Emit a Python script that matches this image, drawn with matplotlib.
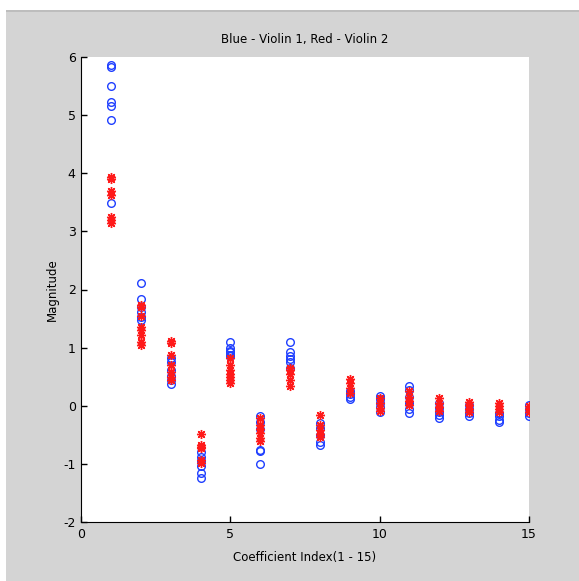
import matplotlib.pyplot as plt
from matplotlib.patches import Rectangle

# magnitudes per coefficient index (1 - 15)
blue_violin1 = [
    [5.86, 5.82, 5.50, 5.22, 5.16, 4.92, 3.49],
    [2.11, 1.83, 1.70, 1.62, 1.53, 1.48],
    [0.82, 0.75, 0.62, 0.52, 0.45, 0.38],
    [-0.79, -0.87, -0.95, -1.04, -1.16, -1.24],
    [1.09, 1.00, 0.95, 0.92, 0.88, 0.85],
    [-0.18, -0.28, -0.40, -0.75, -0.78, -0.99],
    [1.09, 0.93, 0.85, 0.80, 0.76, 0.65],
    [-0.30, -0.38, -0.50, -0.62, -0.67],
    [0.25, 0.20, 0.16, 0.12],
    [0.17, 0.12, 0.05, -0.02, -0.10],
    [0.34, 0.28, 0.15, 0.05, -0.05, -0.13],
    [0.05, -0.03, -0.10, -0.16, -0.20],
    [0.02, -0.05, -0.12, -0.18],
    [-0.12, -0.18, -0.24, -0.28],
    [0.02, -0.05, -0.12, -0.18],
]
red_violin2 = [
    [3.93, 3.90, 3.70, 3.62, 3.25, 3.20, 3.15],
    [1.73, 1.70, 1.55, 1.36, 1.30, 1.22, 1.10, 1.05],
    [1.12, 1.08, 0.87, 0.70, 0.59, 0.50, 0.44],
    [-0.48, -0.67, -0.70, -0.72, -0.93, -0.98],
    [0.82, 0.71, 0.62, 0.55, 0.50, 0.45, 0.40],
    [-0.21, -0.33, -0.40, -0.47, -0.55, -0.60],
    [0.65, 0.62, 0.55, 0.45, 0.34],
    [-0.16, -0.33, -0.42, -0.48, -0.53],
    [0.47, 0.40, 0.30, 0.22],
    [0.13, 0.05, -0.04, -0.09],
    [0.25, 0.15, 0.08, 0.02],
    [0.13, 0.05, -0.02, -0.08],
    [0.07, 0.02, -0.05, -0.10],
    [0.05, 0.0, -0.05, -0.10],
    [0.0, -0.05, -0.10],
]
x_ticks = [0, 5, 10, 15]
y_ticks = [-2, -1, 0, 1, 2, 3, 4, 5, 6]

plt.rcParams['font.family'] = ['Liberation Sans Narrow', 'DejaVu Sans']
plt.rcParams['axes.unicode_minus'] = False

fig = plt.figure(figsize=(5.79, 5.81), dpi=100)
fig.patch.set_facecolor('#d4d4d4')
W, H = 579, 581
# white window strips and the grey separator line
fig.patches.append(Rectangle((0, 1 - 9.5 / H), 1, 9.5 / H, transform=fig.transFigure,
                             facecolor='white', edgecolor='none', zorder=-1))
fig.patches.append(Rectangle((0, 1 - 12 / H), 1, 2.5 / H, transform=fig.transFigure,
                             facecolor='#bdbdbd', edgecolor='none', zorder=-1))
fig.patches.append(Rectangle((0, 0), 6 / W, 1 - 9.5 / H, transform=fig.transFigure,
                             facecolor='white', edgecolor='none', zorder=-1))

ax = fig.add_axes([81.3 / W, 1 - 522.3 / H, 447.4 / W, 465.6 / H])
ax.set_facecolor('white')

for i, vals in enumerate(blue_violin1):
    ax.plot([i + 1] * len(vals), vals, 'o', color='#1f3fff', mfc='none',
            markersize=5.5, markeredgewidth=1.0, linestyle='none')
for i, vals in enumerate(red_violin2):
    ax.plot([i + 1] * len(vals), vals, marker=(8, 2, 0), color='#ff1a1a',
            markersize=6.5, markeredgewidth=1.0, linestyle='none')

ax.set_xlim(0, 15)
ax.set_ylim(-2, 6)
ax.set_xticks(x_ticks)
ax.set_yticks(y_ticks)
ax.spines['top'].set_visible(False)
ax.spines['right'].set_visible(False)
ax.tick_params(direction='in', length=4, width=1, labelsize=9, pad=4)

ax.set_title('Blue - Violin 1, Red - Violin 2', fontsize=8.5, pad=10)
ax.set_xlabel('Coefficient Index(1 - 15)', fontsize=8.5, labelpad=7)
ax.set_ylabel('Magnitude', fontsize=8.5, labelpad=3)

fig.savefig('out.png', dpi=100, facecolor=fig.get_facecolor())
